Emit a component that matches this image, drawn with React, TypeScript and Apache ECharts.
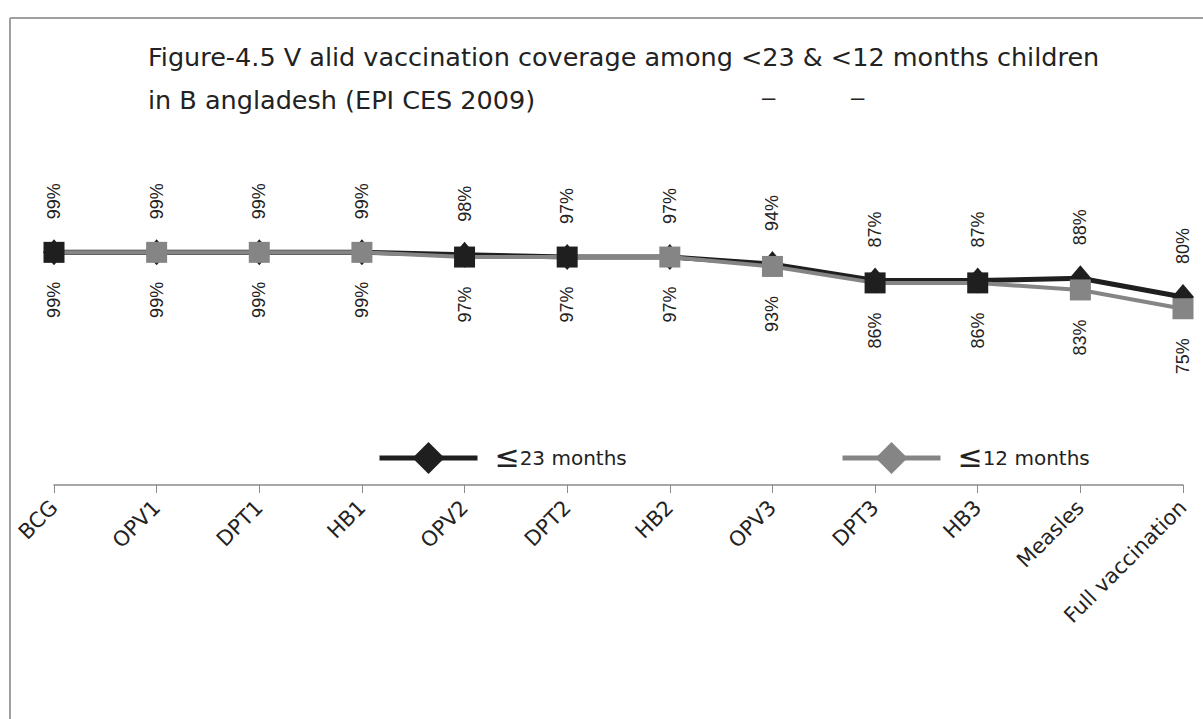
import React, { useEffect, useRef } from "react";
import * as echarts from "echarts";

const categories = ["BCG", "OPV1", "DPT1", "HB1", "OPV2", "DPT2", "HB2", "OPV3", "DPT3", "HB3", "Measles", "Full vaccination"];
const months23 = [99, 99, 99, 99, 98, 97, 97, 94, 87, 87, 88, 80];
const months12 = [99, 99, 99, 99, 97, 97, 97, 93, 86, 86, 83, 75];
const darkMarkers12 = ["BCG", "OPV2", "DPT2", "DPT3", "HB3"];
const seriesNames = ["≤23 months", "≤12 months"];
const titleLines = ["Figure-4.5 V alid vaccination coverage among <23 & <12 months children", "in B angladesh (EPI CES 2009)"];

const FONT = "'Liberation Sans', Arial, sans-serif";
const WIDE = "'DejaVu Sans', sans-serif";
const BLACK = "#1f1f1f";
const GREY = "#858585";

const legendText = {
  fontFamily: WIDE,
  color: "#222",
  padding: [0, 0, 0, 12],
  rich: {
    le: { fontFamily: WIDE, fontSize: 30, color: "#222", padding: [0, 0, 4, 0] },
    t: { fontFamily: WIDE, fontSize: 20, color: "#222" },
  },
};
const legendFormatter = (name: string) => `{le|${name.slice(0, 1)}}{t|${name.slice(1)}}`;

export default function App() {
  const ref = useRef<HTMLDivElement>(null);
  useEffect(() => {
    if (!ref.current) return;
    const chart = echarts.init(ref.current, null, { renderer: "svg" });
    chart.setOption({
      animation: false,
      backgroundColor: "#ffffff",
      title: {
        text: titleLines.join("\n"),
        left: 143,
        top: 30,
        textStyle: { fontFamily: WIDE, fontSize: 25.5, fontWeight: "normal", color: "#222", lineHeight: 43 },
      },
      graphic: [
        { type: "line", shape: { x1: 10, y1: 18, x2: 10, y2: 719 }, style: { stroke: "#a0a0a0", lineWidth: 2 } },
        { type: "line", shape: { x1: 10, y1: 18, x2: 1203, y2: 18 }, style: { stroke: "#a0a0a0", lineWidth: 2 } },
        { type: "text", left: 762, top: 84, style: { text: "–", fontSize: 24, fontFamily: FONT, fill: "#222" } },
        { type: "text", left: 851, top: 84, style: { text: "–", fontSize: 24, fontFamily: FONT, fill: "#222" } },
      ],
      legend: [
        {
          data: [seriesNames[0]],
          left: 372,
          top: 436,
          itemWidth: 98,
          itemHeight: 40,
          lineStyle: { width: 5 },
          formatter: legendFormatter,
          textStyle: legendText,
        },
        {
          data: [seriesNames[1]],
          left: 835,
          top: 436,
          itemWidth: 98,
          itemHeight: 40,
          lineStyle: { width: 5 },
          formatter: legendFormatter,
          textStyle: legendText,
        },
      ],
      grid: { left: 54, right: 20, top: 203, bottom: 234, containLabel: false },
      xAxis: {
        type: "category",
        data: categories,
        boundaryGap: false,
        axisLine: { lineStyle: { color: "#8a8a8a", width: 1.5 } },
        axisTick: { show: true, alignWithLabel: true, length: 8, lineStyle: { color: "#8a8a8a" } },
        axisLabel: { rotate: 45, fontFamily: WIDE, fontSize: 21, color: "#222", margin: 19, interval: 0 },
      },
      yAxis: {
        type: "value",
        min: 0,
        max: 120,
        show: false,
        splitLine: { show: false },
      },
      series: [
        {
          name: seriesNames[0],
          type: "line",
          data: months23,
          symbol: "diamond",
          symbolSize: [22, 26],
          z: 2,
          lineStyle: { color: BLACK, width: 5 },
          itemStyle: { color: BLACK },
          label: {
            show: true,
            position: "top",
            distance: 20,
            rotate: 90,
            align: "left",
            verticalAlign: "middle",
            formatter: "{c}%",
            fontFamily: FONT,
            fontSize: 18,
            color: "#222",
          },
        },
        {
          name: seriesNames[1],
          type: "line",
          symbol: "diamond",
          symbolSize: 22,
          z: 3,
          data: months12.map((v, i) => ({
            value: v,
            symbol: "rect",
            symbolSize: 21,
            itemStyle: { color: darkMarkers12.includes(categories[i]) ? BLACK : GREY },
          })),
          lineStyle: { color: GREY, width: 4 },
          itemStyle: { color: GREY },
          label: {
            show: true,
            position: "bottom",
            distance: 19,
            rotate: 90,
            align: "right",
            verticalAlign: "middle",
            formatter: "{c}%",
            fontFamily: FONT,
            fontSize: 18,
            color: "#222",
          },
        },
      ],
    });
    return () => chart.dispose();
  }, []);
  return <div ref={ref} style={{ position: "fixed", left: 0, top: 0, width: 1203, height: 719 }} />;
}
